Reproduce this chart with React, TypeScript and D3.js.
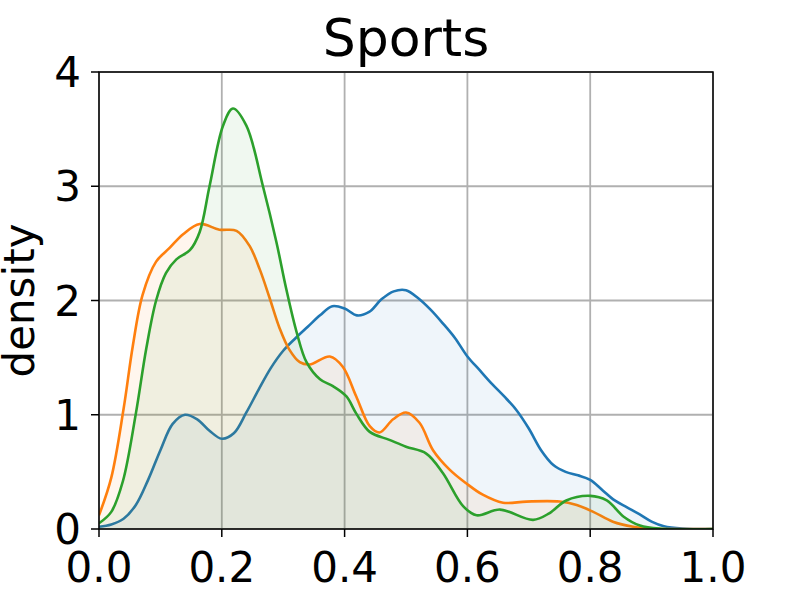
import React from "react";
import * as d3 from "d3";

const W = 793;
const H = 595;
const M = { left: 99, right: 713, top: 72, bottom: 529 };

const xTicks = [0, 0.2, 0.4, 0.6, 0.8, 1.0];
const yTicks = [0, 1, 2, 3, 4];

const blueX = [0, 0.02, 0.04, 0.06, 0.08, 0.10, 0.12, 0.14, 0.16, 0.18, 0.20, 0.22, 0.24, 0.26, 0.28, 0.30, 0.32, 0.34, 0.36, 0.38, 0.40, 0.42, 0.44, 0.46, 0.48, 0.50, 0.52, 0.54, 0.56, 0.58, 0.60, 0.62, 0.64, 0.66, 0.68, 0.70, 0.72, 0.74, 0.76, 0.78, 0.80, 0.82, 0.84, 0.86, 0.88, 0.90, 0.92, 0.95, 1.0];
const blueY = [0.02, 0.04, 0.09, 0.21, 0.43, 0.69, 0.92, 1.0, 0.96, 0.86, 0.79, 0.84, 1.02, 1.22, 1.41, 1.56, 1.67, 1.77, 1.87, 1.95, 1.93, 1.87, 1.9, 2.01, 2.08, 2.09, 2.02, 1.92, 1.8, 1.67, 1.51, 1.39, 1.27, 1.16, 1.04, 0.88, 0.69, 0.56, 0.5, 0.47, 0.43, 0.34, 0.25, 0.19, 0.13, 0.065, 0.025, 0.005, 0];

const orangeX = [0, 0.02, 0.04, 0.055, 0.071, 0.093, 0.115, 0.137, 0.164, 0.196, 0.224, 0.245, 0.262, 0.278, 0.294, 0.31, 0.327, 0.343, 0.376, 0.397, 0.419, 0.441, 0.457, 0.479, 0.5, 0.522, 0.544, 0.571, 0.598, 0.625, 0.658, 0.696, 0.75, 0.778, 0.805, 0.837, 0.87, 0.9, 1.0];
const orangeY = [0.12, 0.45, 1.05, 1.6, 2.05, 2.34, 2.46, 2.58, 2.67, 2.62, 2.61, 2.48, 2.27, 2.02, 1.76, 1.57, 1.46, 1.44, 1.51, 1.42, 1.16, 0.9, 0.845, 0.96, 1.02, 0.93, 0.69, 0.52, 0.4, 0.3, 0.23, 0.24, 0.24, 0.21, 0.15, 0.064, 0.02, 0.003, 0];

const greenX = [0, 0.02, 0.039, 0.06, 0.077, 0.093, 0.109, 0.126, 0.148, 0.164, 0.18, 0.202, 0.218, 0.24, 0.267, 0.289, 0.305, 0.322, 0.338, 0.36, 0.381, 0.403, 0.419, 0.441, 0.473, 0.5, 0.533, 0.56, 0.593, 0.615, 0.653, 0.707, 0.734, 0.761, 0.8, 0.827, 0.854, 0.881, 0.915, 1.0];
const greenY = [0.05, 0.15, 0.42, 1.01, 1.58, 2.0, 2.24, 2.36, 2.44, 2.6, 3.0, 3.53, 3.68, 3.53, 3.0, 2.51, 2.1, 1.72, 1.46, 1.31, 1.25, 1.16, 1.01, 0.85, 0.78, 0.72, 0.66, 0.49, 0.2, 0.12, 0.17, 0.08, 0.14, 0.25, 0.29, 0.25, 0.11, 0.03, 0.002, 0];

const seriesColors = ["#1f77b4", "#ff7f0e", "#2ca02c"];

export default function App() {
  const x = d3.scaleLinear().domain([0, 1]).range([M.left, M.right]);
  const y = d3.scaleLinear().domain([0, 4]).range([M.bottom, M.top]);
  const font = "'DejaVu Sans', sans-serif";

  const series = [
    { xs: blueX, ys: blueY, color: seriesColors[0] },
    { xs: orangeX, ys: orangeY, color: seriesColors[1] },
    { xs: greenX, ys: greenY, color: seriesColors[2] },
  ];

  const curve = d3.curveCatmullRom.alpha(0.5);
  const line = d3.line<[number, number]>().x((d) => x(d[0])).y((d) => y(d[1])).curve(curve);
  const area = d3
    .area<[number, number]>()
    .x((d) => x(d[0]))
    .y0(y(0))
    .y1((d) => y(d[1]))
    .curve(curve);

  return (
    <svg
      width={W}
      height={H}
      style={{ position: "absolute", left: 0, top: 0, background: "#fff" }}
      fontFamily={font}
    >
      <defs>
        <clipPath id="plotclip">
          <rect x={M.left} y={M.top} width={M.right - M.left} height={M.bottom - M.top} />
        </clipPath>
      </defs>
      <rect width={W} height={H} fill="#fff" />
      {xTicks.map((t) => (
        <line key={"gx" + t} x1={x(t)} x2={x(t)} y1={M.top} y2={M.bottom} stroke="#b0b0b0" strokeWidth={1.8} />
      ))}
      {yTicks.map((t) => (
        <line key={"gy" + t} x1={M.left} x2={M.right} y1={y(t)} y2={y(t)} stroke="#b0b0b0" strokeWidth={1.8} />
      ))}
      <g clipPath="url(#plotclip)">
        {series.map((s, i) => {
          const pts = s.xs.map((v, j) => [v, s.ys[j]] as [number, number]);
          return (
            <g key={i}>
              <path d={area(pts) || ""} fill={s.color} fillOpacity={0.07} stroke="none" />
              <path d={line(pts) || ""} fill="none" stroke={s.color} strokeWidth={2.6} strokeLinejoin="round" />
            </g>
          );
        })}
      </g>
      <rect x={M.left} y={M.top} width={M.right - M.left} height={M.bottom - M.top} fill="none" stroke="#000" strokeWidth={1.5} />
      {xTicks.map((t) => (
        <g key={"xt" + t}>
          <line x1={x(t)} x2={x(t)} y1={M.bottom} y2={M.bottom + 8} stroke="#000" strokeWidth={1.5} />
          <text x={x(t)} y={582} textAnchor="middle" fontSize={42} fill="#000">
            {t.toFixed(1)}
          </text>
        </g>
      ))}
      {yTicks.map((t) => (
        <g key={"yt" + t}>
          <line x1={M.left - 8} x2={M.left} y1={y(t)} y2={y(t)} stroke="#000" strokeWidth={1.5} />
          <text x={81} y={y(t) + 15} textAnchor="end" fontSize={42} fill="#000">
            {String(t)}
          </text>
        </g>
      ))}
      <text
        transform={`translate(34, ${(M.top + M.bottom) / 2}) rotate(-90)`}
        textAnchor="middle"
        fontSize={42}
        fill="#000"
      >
        density
      </text>
      <text x={(M.left + M.right) / 2} y={56} textAnchor="middle" fontSize={52} fill="#000">
        Sports
      </text>
    </svg>
  );
}
